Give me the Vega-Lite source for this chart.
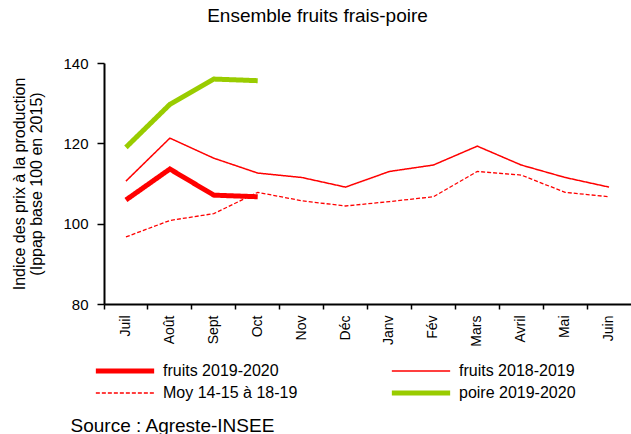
{
  "$schema": "https://vega.github.io/schema/vega-lite/v6.json",
  "width": 527,
  "height": 241,
  "autosize": {"type": "none"},
  "padding": {"left": 104, "top": 63, "right": 0, "bottom": 130},
  "background": "white",
  "config": {
    "font": "Liberation Sans",
    "view": {"stroke": null},
    "axis": {"domainColor": "#000", "tickColor": "#000", "labelColor": "#000", "titleColor": "#000", "grid": false}
  },
  "title": {
    "text": "Ensemble fruits frais-poire",
    "fontSize": 19,
    "fontWeight": "normal",
    "color": "#000",
    "anchor": "middle",
    "dx": -50,
    "offset": 30
  },
  "data": {
    "values": [
      {"mois": "Juil", "serie": "fruits 2019-2020", "valeur": 105.9},
      {"mois": "Août", "serie": "fruits 2019-2020", "valeur": 113.6},
      {"mois": "Sept", "serie": "fruits 2019-2020", "valeur": 107.1},
      {"mois": "Oct", "serie": "fruits 2019-2020", "valeur": 106.7},
      {"mois": "Juil", "serie": "fruits 2018-2019", "valeur": 110.6},
      {"mois": "Août", "serie": "fruits 2018-2019", "valeur": 121.3},
      {"mois": "Sept", "serie": "fruits 2018-2019", "valeur": 116.3},
      {"mois": "Oct", "serie": "fruits 2018-2019", "valeur": 112.6},
      {"mois": "Nov", "serie": "fruits 2018-2019", "valeur": 111.5},
      {"mois": "Déc", "serie": "fruits 2018-2019", "valeur": 109.1},
      {"mois": "Janv", "serie": "fruits 2018-2019", "valeur": 113.0},
      {"mois": "Fév", "serie": "fruits 2018-2019", "valeur": 114.6},
      {"mois": "Mars", "serie": "fruits 2018-2019", "valeur": 119.3},
      {"mois": "Avril", "serie": "fruits 2018-2019", "valeur": 114.6},
      {"mois": "Mai", "serie": "fruits 2018-2019", "valeur": 111.5},
      {"mois": "Juin", "serie": "fruits 2018-2019", "valeur": 109.1},
      {"mois": "Juil", "serie": "Moy 14-15 à 18-19", "valeur": 96.7},
      {"mois": "Août", "serie": "Moy 14-15 à 18-19", "valeur": 100.8},
      {"mois": "Sept", "serie": "Moy 14-15 à 18-19", "valeur": 102.5},
      {"mois": "Oct", "serie": "Moy 14-15 à 18-19", "valeur": 107.8},
      {"mois": "Nov", "serie": "Moy 14-15 à 18-19", "valeur": 105.7},
      {"mois": "Déc", "serie": "Moy 14-15 à 18-19", "valeur": 104.4},
      {"mois": "Janv", "serie": "Moy 14-15 à 18-19", "valeur": 105.5},
      {"mois": "Fév", "serie": "Moy 14-15 à 18-19", "valeur": 106.7},
      {"mois": "Mars", "serie": "Moy 14-15 à 18-19", "valeur": 113.0},
      {"mois": "Avril", "serie": "Moy 14-15 à 18-19", "valeur": 112.1},
      {"mois": "Mai", "serie": "Moy 14-15 à 18-19", "valeur": 107.8},
      {"mois": "Juin", "serie": "Moy 14-15 à 18-19", "valeur": 106.7},
      {"mois": "Juil", "serie": "poire 2019-2020", "valeur": 119.0},
      {"mois": "Août", "serie": "poire 2019-2020", "valeur": 129.7},
      {"mois": "Sept", "serie": "poire 2019-2020", "valeur": 136.0},
      {"mois": "Oct", "serie": "poire 2019-2020", "valeur": 135.6}
    ]
  },
  "mark": {"type": "line", "strokeCap": "butt"},
  "encoding": {
    "x": {
      "field": "mois",
      "type": "nominal",
      "sort": ["Juil", "Août", "Sept", "Oct", "Nov", "Déc", "Janv", "Fév", "Mars", "Avril", "Mai", "Juin"],
      "scale": {"type": "band", "paddingInner": 0, "paddingOuter": 0},
      "axis": {
        "bandPosition": 0,
        "labelAngle": -90,
        "labelFontSize": 14,
        "labelPadding": 6,
        "tickSize": 5,
        "domainWidth": 2,
        "tickWidth": 1.5,
        "title": "Source : Agreste-INSEE",
        "titleFontSize": 19,
        "titleFontWeight": "normal",
        "titleAnchor": "start",
        "titleAlign": "left",
        "titleBaseline": "alphabetic",
        "titleX": -34,
        "titleY": 127
      }
    },
    "y": {
      "field": "valeur",
      "type": "quantitative",
      "scale": {"domain": [80, 140], "nice": false, "zero": false},
      "axis": {
        "values": [80, 100, 120, 140],
        "labelFontSize": 15,
        "tickSize": 7,
        "tickWidth": 1.5,
        "labelPadding": 9,
        "domainWidth": 2,
        "title": ["Indice des prix à la production", "(Ippap base 100 en 2015)"],
        "titleFontSize": 16,
        "titleFontWeight": "normal",
        "titlePadding": 18,
        "titleLineHeight": 17
      }
    },
    "color": {
      "field": "serie",
      "type": "nominal",
      "scale": {
        "domain": ["fruits 2019-2020", "Moy 14-15 à 18-19", "fruits 2018-2019", "poire 2019-2020"],
        "range": ["#ff0000", "#ff0000", "#ff0000", "#99cc00"]
      },
      "legend": {
        "title": null,
        "orient": "none",
        "legendX": -11,
        "legendY": 300,
        "columns": 2,
        "columnPadding": 91,
        "rowPadding": 6,
        "clipHeight": 16,
        "symbolType": "stroke",
        "symbolSize": 3400,
        "labelFontSize": 16,
        "labelColor": "#000",
        "labelOffset": 6,
        "labelLimit": 200
      }
    },
    "strokeWidth": {
      "field": "serie",
      "type": "nominal",
      "scale": {
        "type": "ordinal",
        "domain": ["fruits 2019-2020", "Moy 14-15 à 18-19", "fruits 2018-2019", "poire 2019-2020"],
        "range": [5, 1.3, 1.5, 5]
      },
      "legend": {"title": null}
    },
    "strokeDash": {
      "field": "serie",
      "type": "nominal",
      "scale": {
        "domain": ["fruits 2019-2020", "Moy 14-15 à 18-19", "fruits 2018-2019", "poire 2019-2020"],
        "range": [[1, 0], [4, 2], [1, 0], [1, 0]]
      },
      "legend": {"title": null}
    }
  }
}
